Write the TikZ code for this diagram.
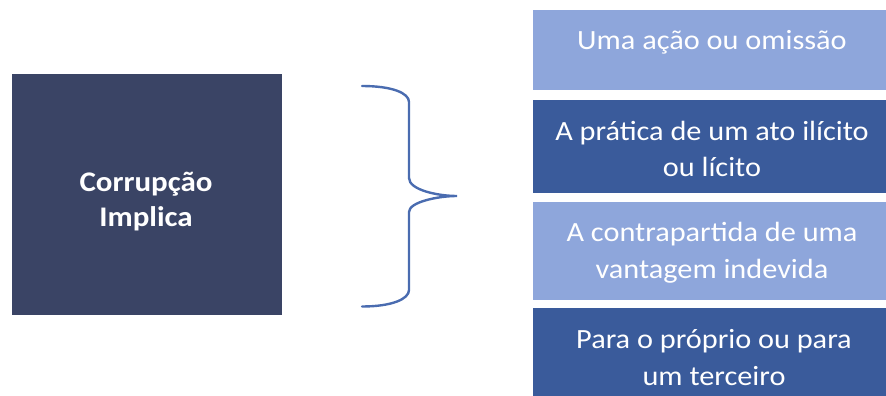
\documentclass[tikz,border=0pt]{standalone}
\usepackage{fontspec}
\setmainfont{Carlito}[FakeStretch=1.09]
\definecolor{sqcol}{HTML}{3A4465}
\definecolor{darkbox}{HTML}{3A5B9B}
\definecolor{lightbox}{HTML}{8EA6DB}
\definecolor{bracecol}{HTML}{4A6CB0}
\tikzset{
  boxshape/.style={rectangle, inner sep=0pt, outer sep=0pt, draw=none},
  lighttile/.style={boxshape, fill=lightbox},
  darktile/.style={boxshape, fill=darkbox},
  righttext/.style={anchor=base, inner sep=0pt, text=white, font=\fontsize{27.8}{36.7}\selectfont},
  lefttext/.style={anchor=base, inner sep=0pt, text=white, font=\bfseries\fontsize{28.4}{35}\selectfont},
}
\begin{document}
\begin{tikzpicture}[x=1pt, y=-1pt]
\useasboundingbox (0,0) rectangle (886,396);
\clip (0,0) rectangle (886,396);
% left square
\node[boxshape, fill=sqcol, minimum width=270pt, minimum height=241pt] (sq) at (147,194.5) {};
\node[lefttext] (sqt) at (146,191.7) {\begin{tabular}[t]{@{}c@{}}Corrupção\\Implica\end{tabular}};
% brace
\draw[bracecol, line width=2.4pt, line cap=round]
  (362,86) .. controls (392,86) and (409,93) .. (409,102) -- (409,178)
  .. controls (409,190) and (438,196) .. (457,196)
  .. controls (438,196) and (409,202) .. (409,212) -- (409,290)
  .. controls (409,299) and (392,306.5) .. (362,306.5);
% right tiles
\node[lighttile, minimum width=358pt, minimum height=80pt] (b1) at (712,50) {};
\node[darktile, minimum width=358pt, minimum height=92.7pt] (b2) at (712,146.35) {};
\node[lighttile, minimum width=358pt, minimum height=98.3pt] (b3) at (712,250.85) {};
\node[darktile, minimum width=358pt, minimum height=93pt] (b4) at (712,354.8) {};
\node[righttext] (t1) at (712,49.3) {Uma ação ou omissão};
\node[righttext] (t2) at (712,140) {\begin{tabular}[t]{@{}c@{}}A prática de um ato ilícito\\ou lícito\end{tabular}};
\node[righttext] (t3) at (712,241.7) {\begin{tabular}[t]{@{}c@{}}A contrapartida de uma\\vantagem indevida\end{tabular}};
\node[righttext] (t4) at (714,348.3) {\begin{tabular}[t]{@{}c@{}}Para o próprio ou para\\um terceiro\end{tabular}};
\end{tikzpicture}
\end{document}
